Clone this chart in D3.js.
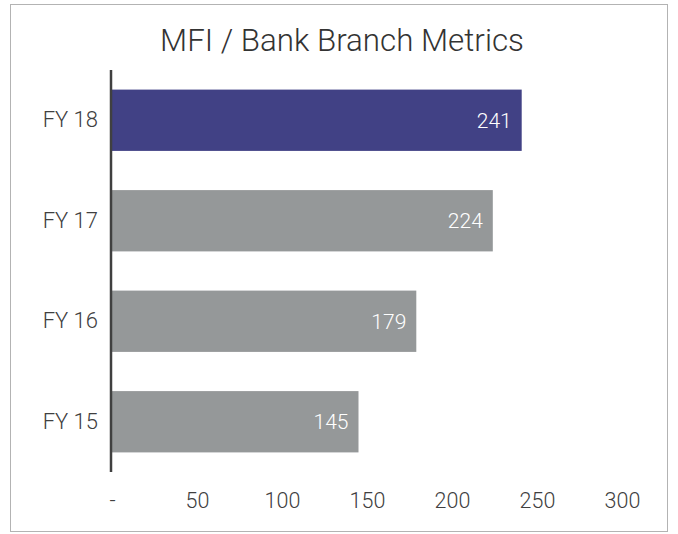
<!DOCTYPE html>
<html>
<head>
<meta charset="utf-8">
<script src="https://cdn.jsdelivr.net/npm/d3@7"></script>
<style>
  html, body { margin: 0; padding: 0; background: #fff; }
  svg { display: block; }
  text { font-family: Roboto, "Liberation Sans", sans-serif; font-weight: 300; }
</style>
</head>
<body>
<svg id="chart" width="678" height="534"></svg>
<script>
const title = "MFI / Bank Branch Metrics";
const categories = ["FY 18", "FY 17", "FY 16", "FY 15"];
const values = [241, 224, 179, 145];
const highlight = ["FY 18"];
const tickValues = [0, 50, 100, 150, 200, 250, 300];
const tickLabels = ["-", "50", "100", "150", "200", "250", "300"];

const svg = d3.select("#chart");

svg.append("rect")
  .attr("x", 10.5).attr("y", 4.5)
  .attr("width", 657).attr("height", 527)
  .attr("fill", "#fff").attr("stroke", "#b3b3b3").attr("stroke-width", 1);

svg.append("text")
  .attr("x", 342).attr("y", 51)
  .attr("text-anchor", "middle")
  .attr("font-size", 31.3)
  .attr("fill", "#333")
  .text(title);

const x = d3.scaleLinear().domain([0, 300]).range([112, 622]);
const y = d3.scaleBand().domain(categories).range([70, 472]).paddingInner(0.39).paddingOuter(0.195);

const bars = svg.append("g");
bars.selectAll("rect").data(categories).join("rect")
  .attr("x", x(0))
  .attr("y", d => y(d))
  .attr("width", (d, i) => x(values[i]) - x(0))
  .attr("height", y.bandwidth())
  .attr("fill", d => highlight.includes(d) ? "#414185" : "#959899");

bars.selectAll("text").data(categories).join("text")
  .attr("x", (d, i) => x(values[i]) - 10)
  .attr("y", d => y(d) + y.bandwidth() / 2)
  .attr("dy", "0.36em")
  .attr("text-anchor", "end")
  .attr("font-size", 21)
  .attr("fill", "#fff")
  .text((d, i) => values[i]);

// category axis
const yAxis = d3.axisLeft(y).tickSize(0).tickPadding(13);
const gy = svg.append("g").attr("transform", `translate(${x(0) - 1},0)`).call(yAxis);
gy.select(".domain").attr("stroke", "#404040").attr("stroke-width", 2.5).attr("d", "M0,70V472");
gy.selectAll("text").attr("font-size", 22).attr("fill", "#404040")
  .style("font-family", "Roboto, sans-serif").style("font-weight", 300);

// value axis
const xAxis = d3.axisBottom(x).tickValues(tickValues).tickSize(0).tickPadding(0)
  .tickFormat((d, i) => tickLabels[i]);
const gx = svg.append("g").attr("transform", "translate(0,493)").call(xAxis);
gx.select(".domain").remove();
gx.selectAll("text").attr("font-size", 21.5).attr("fill", "#404040").attr("dy", "0.71em")
  .style("font-family", "Roboto, sans-serif").style("font-weight", 300);
</script>
</body>
</html>
